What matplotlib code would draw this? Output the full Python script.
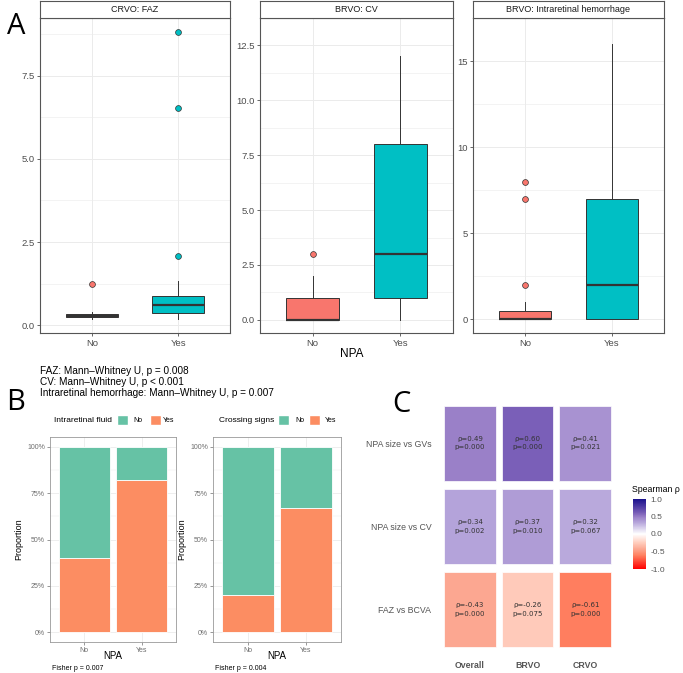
import numpy as np
import matplotlib
matplotlib.use("Agg")
import matplotlib.pyplot as plt
from matplotlib.patches import Rectangle
from matplotlib.colors import LinearSegmentedColormap, Normalize
from matplotlib.cm import ScalarMappable

plt.rcParams['font.family'] = ['Liberation Sans', 'DejaVu Sans']

# ---- data: panel A (five-number summaries: whisker low, q1, median, q3, whisker high)
groups = ["No", "Yes"]
facet_titles = ["CRVO: FAZ", "BRVO: CV", "BRVO: Intraretinal hemorrhage"]
faz_stats = [[0.18, 0.24, 0.28, 0.33, 0.40], [0.18, 0.38, 0.60, 0.88, 1.33]]
faz_fliers = [[1.24], [2.08, 6.52, 8.80]]
cv_stats = [[0, 0, 0, 1, 2], [0, 1, 3, 8, 12]]
cv_fliers = [[3], []]
irh_stats = [[0, 0, 0, 0.5, 1], [0, 0, 2, 7, 16]]
irh_fliers = [[2, 7, 8], []]
stat_notes = ["FAZ: Mann\u2013Whitney U, p = 0.008",
              "CV: Mann\u2013Whitney U, p < 0.001",
              "Intraretinal hemorrhage: Mann\u2013Whitney U, p = 0.007"]

# ---- data: panel B (share of "Yes")
npa = ["No", "Yes"]
irf_yes = [0.40, 0.82]
cross_yes = [0.20, 0.67]
fisher_p = ["0.007", "0.004"]
legend_titles = ["Intraretinal fluid", "Crossing signs"]

# ---- data: panel C
comparisons = ["NPA size vs GVs", "NPA size vs CV", "FAZ vs BCVA"]
cohorts = ["Overall", "BRVO", "CRVO"]
rho = [[0.49, 0.60, 0.41], [0.34, 0.37, 0.32], [-0.43, -0.26, -0.61]]
pvals = [[0.000, 0.000, 0.021], [0.002, 0.010, 0.067], [0.000, 0.075, 0.000]]

W, H = 683, 673
fig = plt.figure(figsize=(W / 100, H / 100), dpi=100)


def box(x0, y0, x1, y1):
    return [x0 / W, 1 - y1 / H, (x1 - x0) / W, (y1 - y0) / H]


def fx(x):
    return x / W


def fy(y):
    return 1 - y / H


border = "#555555"
tick_col = "#4D4D4D"
grid_col = "#EBEBEB"
fills = ["#F8766D", "#00BFC4"]

# ================= Panel A =================
facets = [(faz_stats, faz_fliers, (-0.23, 9.23), [0, 2.5, 5, 7.5], "{:.1f}", (40, 230)),
          (cv_stats, cv_fliers, (-0.6, 12.6), [0, 2.5, 5, 7.5, 10, 12.5], "{:.1f}", (260, 453)),
          (irh_stats, irh_fliers, (-0.8, 16.8), [0, 5, 10, 15], "{:.0f}", (473, 664))]

for k, (stats, fliers, ylim, yt, fmt, (x0, x1)) in enumerate(facets):
    ax = fig.add_axes(box(x0, 18, x1, 333))
    bstats = []
    for s, f, g in zip(stats, fliers, groups):
        bstats.append(dict(whislo=s[0], q1=s[1], med=s[2], q3=s[3], whishi=s[4],
                           fliers=f, label=g))
    bp = ax.bxp(bstats, positions=[1, 2], widths=0.6, patch_artist=True, showcaps=False,
                boxprops=dict(edgecolor="#333333", linewidth=0.7),
                whiskerprops=dict(color="#333333", linewidth=0.7),
                medianprops=dict(color="#333333", linewidth=1.6),
                flierprops=dict(marker="o", markeredgecolor="#333333",
                                markeredgewidth=0.5, markersize=4.2))
    for patch, c in zip(bp["boxes"], fills):
        patch.set_facecolor(c)
    for fl, c in zip(bp["fliers"], fills):
        fl.set_markerfacecolor(c)
    ax.set_xlim(0.4, 2.6)
    ax.set_ylim(*ylim)
    ax.set_yticks(yt)
    ax.set_yticklabels([fmt.format(v) for v in yt])
    ax.set_yticks([(a + b) / 2 for a, b in zip(yt[:-1], yt[1:])] + [yt[-1] + (yt[1] - yt[0]) / 2], minor=True)
    ax.set_xticks([1, 2])
    ax.set_xticklabels(groups)
    ax.grid(True, which="major", color=grid_col, linewidth=0.7)
    ax.grid(True, which="minor", axis="y", color=grid_col, linewidth=0.4)
    ax.set_axisbelow(True)
    ax.tick_params(labelsize=6.8, colors=tick_col, length=2.5, width=0.6, pad=1.5)
    ax.tick_params(which="minor", length=0)
    for sp in ax.spines.values():
        sp.set_color(border)
        sp.set_linewidth(0.8)
    # strip
    st = fig.add_axes(box(x0, 1, x1, 18))
    st.set_xticks([])
    st.set_yticks([])
    for sp in st.spines.values():
        sp.set_color(border)
        sp.set_linewidth(0.8)
    st.text(0.5, 0.5, facet_titles[k], ha="center", va="center", fontsize=6.5, color="#1A1A1A")

fig.text(fx(352), fy(354), "NPA", ha="center", va="center", fontsize=8.5)
for i, note in enumerate(stat_notes):
    fig.text(fx(40), fy(371 + 11 * i), note, ha="left", va="center", fontsize=7.2)

# ================= Panel B =================
green, orange = "#66C2A5", "#FC8D62"
b_axes = [(50, 437, 176, 642), (213, 437, 341, 642)]
b_data = [irf_yes, cross_yes]
legend_x = [(54, 117, 133, 150, 163), (219, 278, 295, 309, 325)]
for k, ((x0, y0, x1, y1), yes) in enumerate(zip(b_axes, b_data)):
    ax = fig.add_axes(box(x0, y0, x1, y1))
    pos = np.arange(1, len(npa) + 1)
    yes = np.array(yes)
    ax.bar(pos, yes, width=0.9, color=orange, edgecolor="white", linewidth=0.6)
    ax.bar(pos, 1 - yes, bottom=yes, width=0.9, color=green, edgecolor="white", linewidth=0.6)
    ax.set_xlim(0.4, 2.6)
    ax.set_ylim(-0.054, 1.054)
    ax.set_xticks(pos)
    ax.set_xticklabels(npa)
    yt = [0, 0.25, 0.5, 0.75, 1.0]
    ax.set_yticks(yt)
    ax.set_yticklabels(["0%", "25%", "50%", "75%", "100%"])
    ax.set_yticks([0.125, 0.375, 0.625, 0.875], minor=True)
    ax.grid(True, which="major", color=grid_col, linewidth=0.6)
    ax.grid(True, which="minor", axis="y", color=grid_col, linewidth=0.35)
    ax.set_axisbelow(True)
    ax.tick_params(labelsize=5, colors="#6E6E6E", length=2, width=0.5, pad=1.5)
    ax.tick_params(which="minor", length=0)
    for sp in ax.spines.values():
        sp.set_color("#999999")
        sp.set_linewidth(0.6)
    ax.set_ylabel("Proportion", fontsize=6.5, labelpad=3)
    fig.text(fx((x0 + x1) / 2), fy(656), "NPA", fontsize=7, ha="center", va="center")
    fig.text(fx(x0 + 2), fy(668), "Fisher p = " + fisher_p[k], fontsize=5, va="center")
    lt, kno, tno, kyes, tyes = legend_x[k]
    fig.text(fx(lt), fy(420), legend_titles[k], fontsize=6, va="center")
    fig.patches.append(Rectangle((fx(kno), fy(425)), 11 / W, 10 / H, transform=fig.transFigure,
                                 facecolor=green, edgecolor="white"))
    fig.text(fx(tno), fy(420), "No", fontsize=5, va="center")
    fig.patches.append(Rectangle((fx(kyes), fy(425)), 11 / W, 10 / H, transform=fig.transFigure,
                                 facecolor=orange, edgecolor="white"))
    fig.text(fx(tyes), fy(420), "Yes", fontsize=5, va="center")

# ================= Panel C =================
anchors = [(-1.0, "#FF0000"), (-0.61, "#FF8060"), (-0.43, "#FCA892"), (-0.26, "#FFCBBB"),
           (0.0, "#FFFFFF"), (0.32, "#B8A8DC"), (0.49, "#9A80C8"), (0.60, "#7A5FB8"),
           (1.0, "#1A118C")]
cmap = LinearSegmentedColormap.from_list("sp", [((v + 1) / 2, c) for v, c in anchors])
norm = Normalize(-1, 1)

axc = fig.add_axes(box(441, 401.5, 614, 651))
for i, comp in enumerate(comparisons):
    ypos = len(comparisons) - i
    for j, coh in enumerate(cohorts):
        v = rho[i][j]
        axc.bar(j + 1, 0.9, bottom=ypos - 0.45, width=0.9, color=cmap(norm(v)),
                edgecolor="white", linewidth=0.5)
        axc.text(j + 1, ypos, "\u03c1={:.2f}\np={:.3f}".format(v, pvals[i][j]),
                 ha="center", va="center", fontsize=5, color="#333333", linespacing=1.5,
                 family=["DejaVu Sans"])
axc.set_xlim(0.5, len(cohorts) + 0.5)
axc.set_ylim(0.5, len(comparisons) + 0.5)
axc.set_xticks(np.arange(1, len(cohorts) + 1))
axc.set_xticklabels(cohorts, fontweight="bold")
axc.set_yticks(np.arange(len(comparisons), 0, -1))
axc.set_yticklabels(comparisons)
axc.tick_params(length=0, labelsize=6.3, colors="#555555")
axc.tick_params(axis="x", pad=7)
axc.tick_params(axis="y", pad=7)
for sp in axc.spines.values():
    sp.set_visible(False)

cax = fig.add_axes(box(633, 499, 646, 569))
cb = fig.colorbar(ScalarMappable(norm=norm, cmap=cmap), cax=cax, ticks=[-1, -0.5, 0, 0.5, 1])
cb.outline.set_visible(False)
cb.ax.set_yticklabels(["-1.0", "-0.5", "0.0", "0.5", "1.0"])
cb.ax.tick_params(length=0, labelsize=6, colors="#555555", pad=3)
fig.text(fx(632), fy(489), "Spearman \u03c1", fontsize=6.3, va="center")

# ---- panel letters
for lab, x, y in [("A", 16, 27), ("B", 16, 403), ("C", 401, 405)]:
    fig.text(fx(x), fy(y), lab, fontsize=21, ha="center", va="center", family=["Open Sans", "DejaVu Sans"])

fig.savefig("out.png", dpi=100)
